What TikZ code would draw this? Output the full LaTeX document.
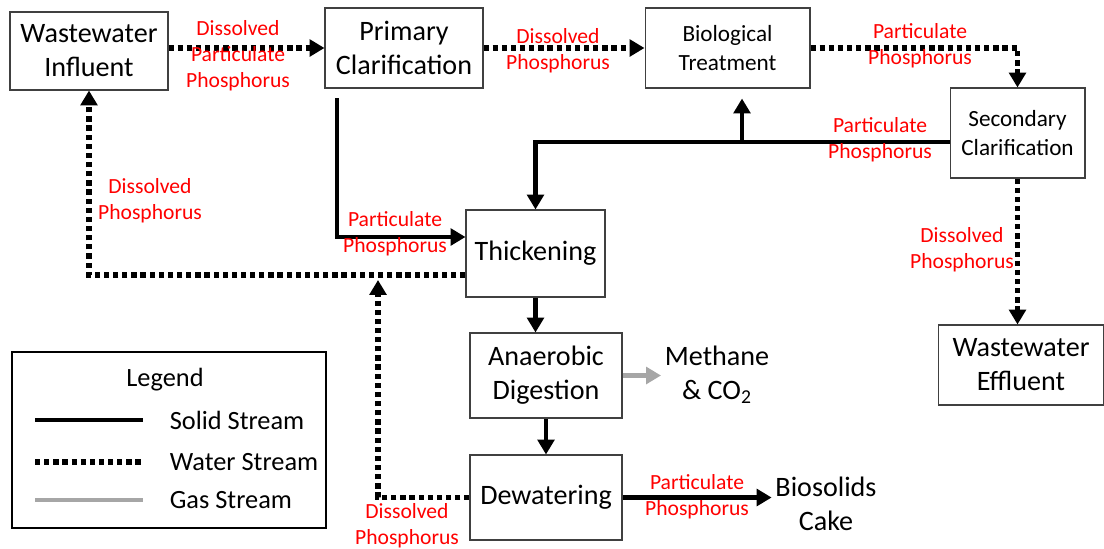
\documentclass[tikz,border=0pt]{standalone}
\usepackage{fontspec}
\setmainfont{Carlito}
\usetikzlibrary{arrows.meta, positioning}
\definecolor{labelred}{RGB}{255,0,0}
\definecolor{gasgray}{RGB}{166,166,166}
\definecolor{edgegray}{RGB}{64,64,64}

\begin{document}
\begin{tikzpicture}[x=0.02cm, y=-0.02cm,
	unit/.style={draw=edgegray, line width=0.6pt, align=center, inner sep=0pt, font=\fontsize{16}{19.3}\selectfont},
	smallunit/.style={unit, font=\fontsize{13.2}{16}\selectfont},
	lbl/.style={text=labelred, align=center, inner sep=1pt, font=\fontsize{12.3}{14.7}\selectfont},
	plain/.style={align=center, inner sep=2pt, font=\fontsize{16}{19.3}\selectfont},
	solidflow/.style={line width=2.6pt, -{Triangle[length=8.5pt,width=9.5pt]}},
	waterflow/.style={line width=3.1pt, dash pattern=on 3pt off 2.2pt, -{Triangle[length=8.5pt,width=9.5pt]}},
	gasflow/.style={line width=2.6pt, gasgray, -{Triangle[length=8.5pt,width=9.5pt]}}]
		\useasboundingbox (0,0) rectangle (1104,548);
		% Process units
		\node[unit, minimum width=3.16cm, minimum height=1.56cm] (infl) at (89,51) {Wastewater\\Influent};
		\node[unit, minimum width=3.16cm, minimum height=1.6cm] (prim) at (404,48) {Primary\\Clarification};
		\node[smallunit, minimum width=3.3cm, minimum height=1.6cm] (bio) at (727.5,48) {Biological\\Treatment};
		\node[smallunit, minimum width=2.7cm, minimum height=1.8cm] (sec) at (1017.5,133) {Secondary\\Clarification};
		\node[unit, minimum width=3.32cm, minimum height=1.6cm] (eff) at (1021,365) {Wastewater\\Effluent};
		\node[unit, minimum width=2.78cm, minimum height=1.74cm] (thick) at (535.5,253.5) {Thickening};
		\node[unit, minimum width=3.04cm, minimum height=1.7cm] (anae) at (546,375.5) {Anaerobic\\Digestion};
		\node[unit, minimum width=3.04cm, minimum height=1.7cm] (dew) at (546,497.5) {Dewatering};
		% Products
		\node[plain] (gas) at (717,375) {Methane\\\& CO\textsubscript{2}};
		\node[plain] (cake) at (826,504) {Biosolids\\Cake};
		
		% Water streams
		\draw[waterflow] (infl.east |- prim.west) -- (prim.west);
		\draw[waterflow] (prim.east) -- (bio.west);
		\draw[waterflow] (bio.east) -| (sec.north);
		\draw[waterflow] (sec.south) -- (sec.south |- eff.north);
		\draw[waterflow] ([yshift=-0.43cm]thick.west) -| (infl.south);
		\coordinate (join) at (378,280);
		\draw[waterflow] (dew.west) -| (join);
		
		% Solid streams
		\coordinate (pout) at (337,98);
		\draw[solidflow] (pout) |- ([yshift=0.33cm]thick.west);
		\coordinate (split) at (742,142);
		\draw[solidflow] (sec.west |- split) -- (split -| thick.north) -- (thick.north);
		\draw[solidflow, shorten >=0.2cm] (split) -- (split |- bio.south);
		\draw[solidflow] (thick.south) -- (thick.south |- anae.north);
		\draw[solidflow] (anae.south) -- (dew.north);
		\draw[solidflow] (dew.east) -- (dew.east -| cake.west);
		
		% Gas stream
		\draw[gasflow] (anae.east) -- (anae.east -| gas.west);
		
		% Phosphorus labels
		\node[lbl] (l1) at (238,56) {Dissolved\\Particulate\\Phosphorus};
		\node[lbl] (l2) at (558,51) {Dissolved\\Phosphorus};
		\node[lbl] (l3) at (920,46) {Particulate\\Phosphorus};
		\node[lbl] (l4) at (880,140) {Particulate\\Phosphorus};
		\node[lbl] (l5) at (395,234) {Particulate\\Phosphorus};
		\node[lbl] (l6) at (150,201) {Dissolved\\Phosphorus};
		\node[lbl] (l7) at (962,250) {Dissolved\\Phosphorus};
		\node[lbl] (l8) at (407,526) {Dissolved\\Phosphorus};
		\node[lbl] (l9) at (697,497) {Particulate\\Phosphorus};
		
		% Legend
		\node[draw, line width=1.2pt, minimum width=6.28cm, minimum height=3.52cm] (legend) at (169,440) {};
		\node[plain, font=\fontsize{15}{18}\selectfont] (legtitle) at (165,380) {Legend};
		\draw[line width=2.6pt] (35,420) -- (143,420);
		\node[plain, font=\fontsize{15}{18}\selectfont, anchor=west] (legsolid) at (166,420) {Solid Stream};
		\draw[line width=3.1pt, dash pattern=on 3pt off 2.2pt] (35,462) -- (142,462);
		\node[plain, font=\fontsize{15}{18}\selectfont, anchor=west] (legwater) at (166,462) {Water Stream};
		\draw[line width=2.6pt, gasgray] (35,500) -- (143,500);
		\node[plain, font=\fontsize{15}{18}\selectfont, anchor=west] (leggas) at (166,500) {Gas Stream};
\end{tikzpicture}
\end{document}
